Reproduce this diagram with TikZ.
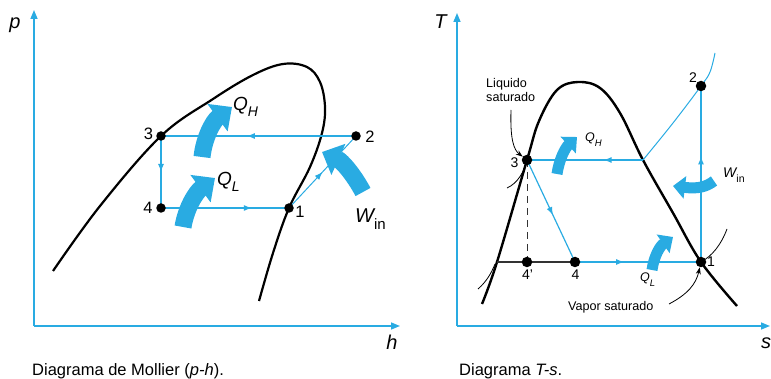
\documentclass[tikz,border=0pt]{standalone}
\usepackage{fontspec}
\setmainfont{Liberation Sans}
\usetikzlibrary{arrows.meta,decorations.markings}
\definecolor{cy}{RGB}{41,171,226}
\newcommand{\sublab}[5]{{\fontsize{#1}{#1}\selectfont #3}\raisebox{-#5}{\fontsize{#2}{#2}\selectfont #4}}
\begin{document}
\begin{tikzpicture}[x=1pt,y=-1pt,
  axis/.style={cy,line width=1.5pt,-{Triangle[length=9pt,width=7pt]}},
  dome/.style={black,line width=2.2pt},
  cyc/.style={cy,line width=1.2pt},
  midarrow/.style={postaction={decorate},decoration={markings,mark=at position #1 with {\arrow{Latex[length=8pt,width=6pt]}}}},
  dotL/.style={circle,fill=black,inner sep=0pt,minimum size=9.5pt},
  dotR/.style={circle,fill=black,inner sep=0pt,minimum size=10.5pt},
  bigL/.style={cy,line width=17pt,-{Triangle[length=18pt,width=33pt]}},
  bigR/.style={cy,line width=11pt,-{Triangle[length=12pt,width=22pt]}},
  thinblk/.style={black,line width=0.8pt},
  numL/.style={font=\fontsize{16.5}{16.5}\selectfont,inner sep=0pt},
  numR/.style={font=\fontsize{14}{14}\selectfont,inner sep=0pt},
  axlbl/.style={font=\fontsize{20}{20}\selectfont\itshape,inner sep=0pt},
  captxt/.style={font=\fontsize{16.5}{16.5}\selectfont,inner sep=0pt,anchor=base west},
  small/.style={font=\fontsize{12.6}{12.6}\selectfont,inner sep=0pt,anchor=base west},
  qlbl/.style={inner sep=0pt,anchor=base west}
]
\useasboundingbox (0,0) rectangle (771,379);

% ---------------- Left: Mollier diagram ----------------
\coordinate (LO) at (34,326);
\coordinate (LY) at (34,10);
\coordinate (LX) at (400,326);
\draw[axis] (LO) -- (LY);
\draw[axis] (LO) -- (LX);
\node[axlbl] (lp) at (15,25) {p};
\node[axlbl] (lh) at (392,342) {h};
\node[captxt] (lcap) at (32,375) {Diagrama de Mollier (\textit{p-h}).};

\draw[dome] plot[smooth,tension=0.6] coordinates {(53,271) (100,206) (161,136) (213,99) (253,75) (283,64) (307,67) (320,82) (325,107) (322,133) (310,167) (289,208) (273,253) (259,301)};

\coordinate (P3) at (161,136);
\coordinate (P2) at (356,136);
\coordinate (P4) at (161,208);
\coordinate (P1) at (289,208);

\draw[cyc,midarrow=0.56] (P2) -- (P3);
\draw[cyc,midarrow=0.5] (P3) -- (P4);
\draw[cyc,midarrow=0.71] (P4) -- (P1);
\draw[cy,line width=1pt,midarrow=0.5] (P1) -- (P2);

\node[dotL] (L3) at (P3) {};
\node[dotL] (L2) at (P2) {};
\node[dotL] (L4) at (P4) {};
\node[dotL] (L1) at (P1) {};

\node[numL] (t3) at (148.5,134) {3};
\node[numL] (t2) at (370,137) {2};
\node[numL] (t4) at (148,208) {4};
\node[numL] (t1) at (300,212) {1};

\draw[bigL] (202,157) .. controls (204,138) and (213,121) .. (232,107);
\draw[bigL] (183,227) .. controls (186,208) and (196,192) .. (215,178);
\draw[bigL] (363,192) .. controls (354,175) and (342,161) .. (322,152);

\node[qlbl] (lqh) at (233,111) {\sublab{19}{14}{\itshape Q}{\itshape H}{6pt}};
\node[qlbl] (lql) at (217,186) {\sublab{19}{14}{\itshape Q}{\itshape L}{6pt}};
\node[qlbl] (lw) at (355,223) {\sublab{20}{15}{\itshape W}{in}{7pt}};

% ---------------- Right: T-s diagram ----------------
\coordinate (RO) at (457,326);
\coordinate (RY) at (457,13);
\coordinate (RX) at (770,326);
\draw[axis] (RO) -- (RY);
\draw[axis] (RO) -- (RX);
\node[axlbl] (rT) at (440.5,22) {T};
\node[axlbl] (rs) at (766,343) {s};
\node[captxt] (rcap) at (459,375) {Diagrama \textit{T-s}.};

\draw[dome,line width=2.4pt] plot[smooth,tension=0.6] coordinates {(482,304) (497,262) (527,160) (539,121) (557,90) (578,82) (600,88) (620,113) (643,160) (673,213) (701,262) (737,306)};

\coordinate (S) at (643,160);
\coordinate (B) at (497,262);
\draw[cy,line width=1pt] plot[smooth,tension=0.6] coordinates {(643,160) (673,123) (701,86) (710,72) (715,53)};

\coordinate (Q3) at (527,160);
\coordinate (Q2) at (701,86);
\coordinate (Q1) at (701,262);
\coordinate (Q4) at (575,262);
\coordinate (Q4p) at (527,262);

\draw[black!80,line width=1.2pt] (B) -- (Q4);
\draw[black!80,line width=1pt,dash pattern=on 7pt off 5pt] (Q3) -- (Q4p);
\draw[cyc,midarrow=0.34] (S) -- (Q3);
\draw[cyc,midarrow=0.54] (Q3) -- (Q4);
\draw[cyc,midarrow=0.39] (Q4) -- (Q1);
\draw[cyc,midarrow=0.6] (Q1) -- (Q2);

\draw[thinblk] (507,188) .. controls (518,183) and (524,172) .. (528,158);
\draw[thinblk] (727,229) .. controls (721,245) and (712,256) .. (701,262);
\draw[thinblk] (478,289) .. controls (486,282) and (491,274) .. (495,264);

\node[dotR] (R3) at (Q3) {};
\node[dotR] (R2) at (Q2) {};
\node[dotR] (R1) at (Q1) {};
\node[dotR] (R4) at (Q4) {};
\node[dotR] (R4p) at (Q4p) {};

\node[numR] (u3) at (514.5,163) {3};
\node[numR] (u2) at (693,78) {2};
\node[numR] (u1) at (711,262) {1};
\node[numR] (u4p) at (527.5,275) {4'};
\node[numR] (u4) at (575.5,275) {4};

\node[small] (liq1) at (486,88) {Liquido};
\node[small] (liq2) at (486,101.5) {saturado};
\node[small] (vap) at (568,311) {Vapor saturado};
\coordinate (liqA) at (511,110);
\coordinate (vapA) at (669,304);
\draw[thinblk,-{Stealth[length=7pt,width=5pt]}] (liqA) .. controls (510,140) and (514,150) .. (R3);
\draw[thinblk,-{Stealth[length=7pt,width=5pt]}] (vapA) .. controls (688,294) and (696,284) .. (R1);

\draw[bigR] (557,174) .. controls (559,160) and (565,148) .. (577,137);
\draw[bigR] (652,270) .. controls (654,256) and (660,246) .. (673,237);
\draw[bigR] (714,181) .. controls (706,187) and (698,189) .. (673,186);

\node[qlbl] (rqh) at (585,142) {\sublab{12.5}{9.5}{\itshape Q}{\itshape H}{4.5pt}};
\node[qlbl] (rql) at (640,282) {\sublab{12.5}{9.5}{\itshape Q}{\itshape L}{4.5pt}};
\node[qlbl] (rw) at (723,178) {\sublab{14}{10.5}{\itshape W}{in}{5pt}};
\end{tikzpicture}
\end{document}
